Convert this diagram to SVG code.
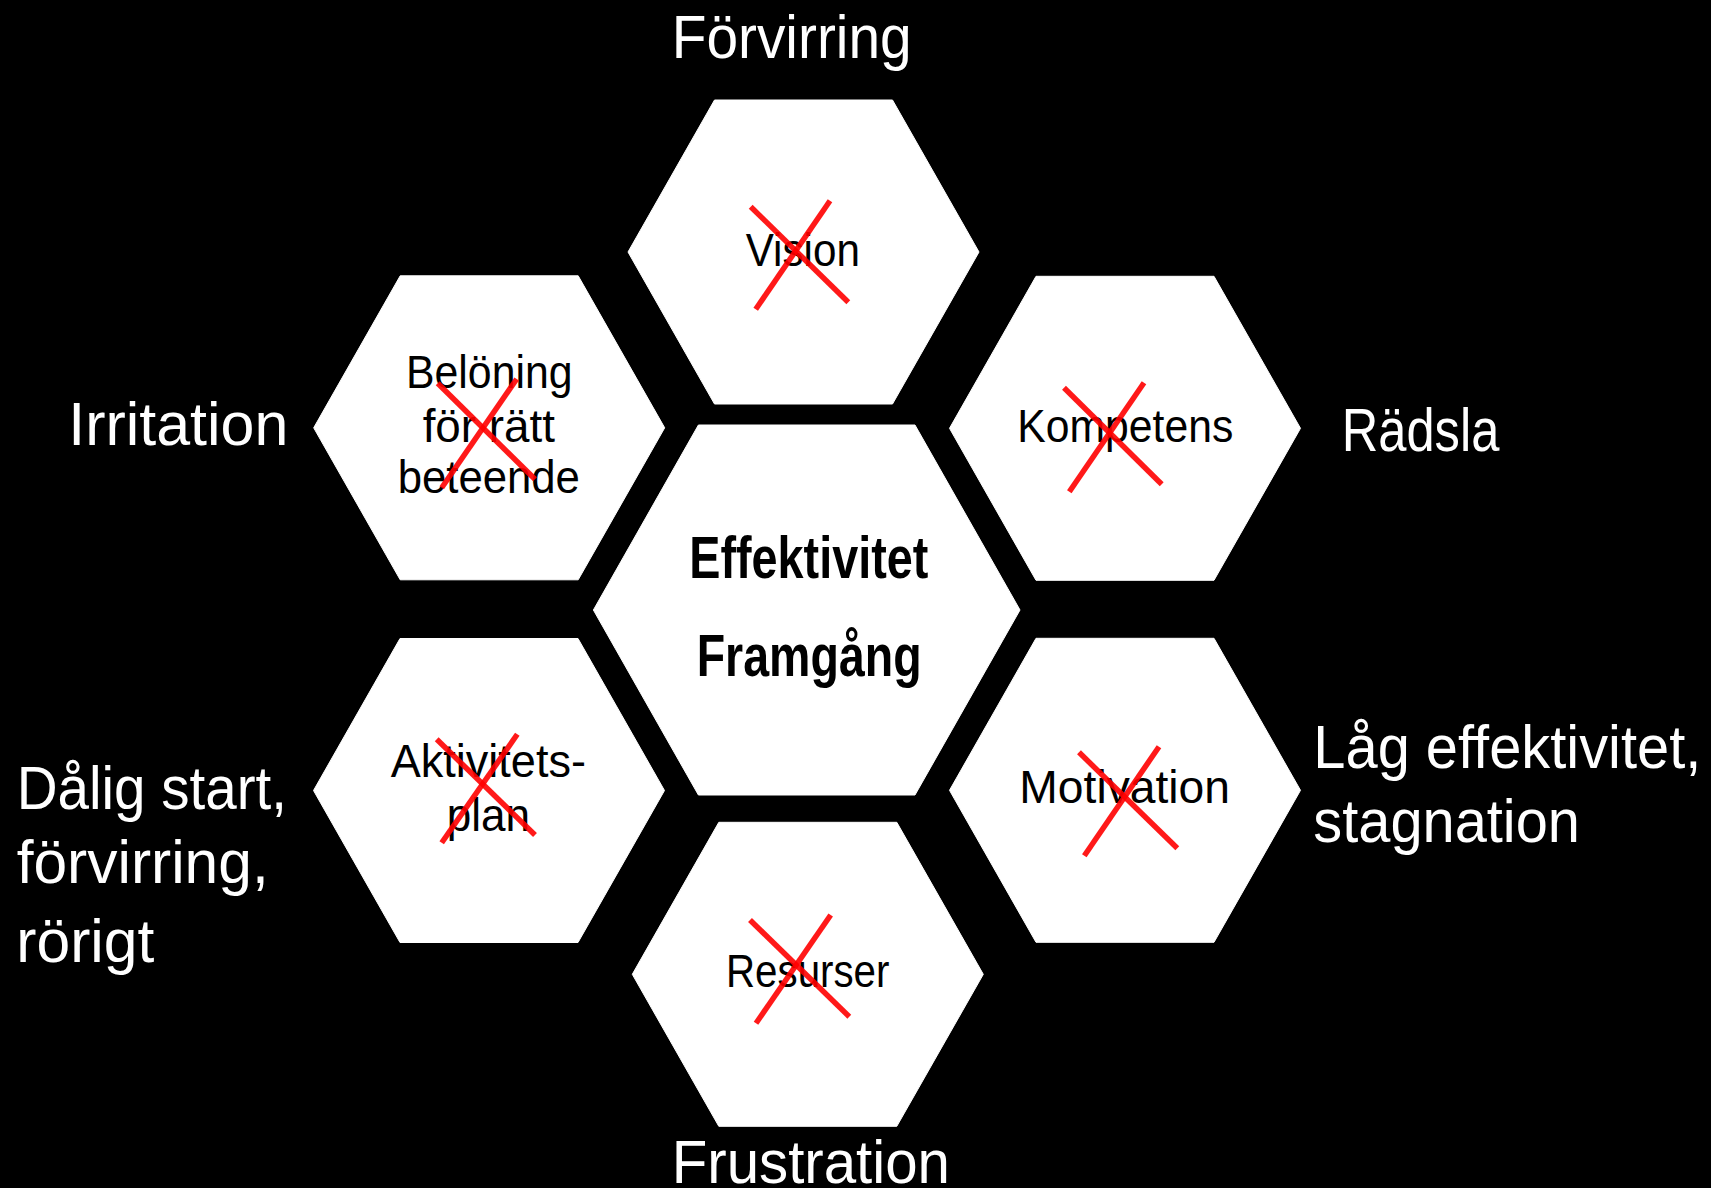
<svg xmlns="http://www.w3.org/2000/svg" xmlns:xlink="http://www.w3.org/1999/xlink" width="1711" height="1188" viewBox="0 0 1711 1188">
<style>
.hex{fill:#ffffff;stroke:#ffffff;stroke-width:1;stroke-linejoin:round}
.nt{font-family:"Liberation Sans",Arial,sans-serif;font-size:46px;fill:#000000;text-anchor:middle}
.ct{font-family:"Liberation Sans",Arial,sans-serif;font-size:60px;font-weight:bold;fill:#000000;text-anchor:middle}
.lb{font-family:"Liberation Sans",Arial,sans-serif;font-size:62px;fill:#ffffff}
.x{stroke:#ff0000;stroke-opacity:0.9;stroke-width:5.5;fill:none}
</style>
<defs>
<polygon id="hexS" points="-175.5,0 -89,-152 89,-152 175.5,0 89,152 -89,152"/>
<polygon id="hexL" points="-213.3,0 -108.3,-185 108.3,-185 213.3,0 108.3,185 -108.3,185"/>
</defs>
<rect x="0" y="0" width="1711" height="1188" fill="#000000"/>

<g id="node-center">
<use xlink:href="#hexL" class="hex" x="806.7" y="610"/>
<text class="ct" x="808.8" y="578.3" textLength="239" lengthAdjust="spacingAndGlyphs">Effektivitet</text>
<text class="ct" x="809.2" y="676" textLength="225" lengthAdjust="spacingAndGlyphs">Framgång</text>
</g>

<g id="node-vision">
<use xlink:href="#hexS" class="hex" x="803.5" y="252"/>
<text class="nt" x="802.8" y="265.7" textLength="114.3" lengthAdjust="spacingAndGlyphs">Vision</text>
<line class="x" x1="750.7" y1="206.7" x2="848.3" y2="302.3"/>
<line class="x" x1="830" y1="200.7" x2="755.7" y2="309.3"/>
</g>

<g id="node-beloning">
<use xlink:href="#hexS" class="hex" x="489.2" y="427.8"/>
<text class="nt" x="489.3" y="388.3" textLength="166.7" lengthAdjust="spacingAndGlyphs">Belöning</text>
<text class="nt" x="488.8" y="441.7" textLength="132.3" lengthAdjust="spacingAndGlyphs">för rätt</text>
<text class="nt" x="488.8" y="492.7" textLength="182.3" lengthAdjust="spacingAndGlyphs">beteende</text>
<line class="x" x1="437.7" y1="383.3" x2="535" y2="479.3"/>
<line class="x" x1="516.7" y1="379" x2="441.7" y2="487.7"/>
</g>

<g id="node-kompetens">
<use xlink:href="#hexS" class="hex" x="1125" y="428.3"/>
<text class="nt" x="1125.3" y="441.7" textLength="216" lengthAdjust="spacingAndGlyphs">Kompetens</text>
<line class="x" x1="1064" y1="387.7" x2="1161.7" y2="484.3"/>
<line class="x" x1="1144" y1="382.7" x2="1069.3" y2="491.7"/>
</g>

<g id="node-aktivitetsplan">
<use xlink:href="#hexS" class="hex" x="489" y="790.5"/>
<text class="nt" x="488.3" y="777.3" textLength="195.3" lengthAdjust="spacingAndGlyphs">Aktivitets-</text>
<text class="nt" x="488.3" y="830.7" textLength="83.3" lengthAdjust="spacingAndGlyphs">plan</text>
<line class="x" x1="436.7" y1="739.3" x2="535" y2="835"/>
<line class="x" x1="517.3" y1="734.3" x2="441.7" y2="842.7"/>
</g>

<g id="node-motivation">
<use xlink:href="#hexS" class="hex" x="1125" y="790.3"/>
<text class="nt" x="1124.7" y="803.3" textLength="210.7" lengthAdjust="spacingAndGlyphs">Motivation</text>
<line class="x" x1="1079" y1="752.3" x2="1177.3" y2="848.3"/>
<line class="x" x1="1159" y1="746.7" x2="1084.3" y2="855.7"/>
</g>

<g id="node-resurser">
<use xlink:href="#hexS" class="hex" x="807.8" y="974.3"/>
<text class="nt" x="807.7" y="987.3" textLength="163.3" lengthAdjust="spacingAndGlyphs">Resurser</text>
<line class="x" x1="750" y1="920" x2="849.3" y2="1016.7"/>
<line class="x" x1="830.7" y1="915" x2="756" y2="1023.3"/>
</g>

<g id="connectors"></g>

<g id="labels">
<text id="label-forvirring" class="lb" x="671.7" y="58.3" textLength="240" lengthAdjust="spacingAndGlyphs">Förvirring</text>
<text id="label-irritation" class="lb" x="68.3" y="445" textLength="220" lengthAdjust="spacingAndGlyphs">Irritation</text>
<text id="label-radsla" class="lb" x="1341.7" y="451" textLength="157.6" lengthAdjust="spacingAndGlyphs">Rädsla</text>
<text id="label-frustration" class="lb" x="671.7" y="1182.7" textLength="278.3" lengthAdjust="spacingAndGlyphs">Frustration</text>
<g id="label-dalig">
<text class="lb" x="16.7" y="809.3" textLength="270.3" lengthAdjust="spacingAndGlyphs">Dålig start,</text>
<text class="lb" x="16.7" y="883.3" textLength="252" lengthAdjust="spacingAndGlyphs">förvirring,</text>
<text class="lb" x="16.3" y="961.7" textLength="138" lengthAdjust="spacingAndGlyphs">rörigt</text>
</g>
<g id="label-lag">
<text class="lb" x="1313.3" y="768.3" textLength="388" lengthAdjust="spacingAndGlyphs">Låg effektivitet,</text>
<text class="lb" x="1313.3" y="841.7" textLength="266.7" lengthAdjust="spacingAndGlyphs">stagnation</text>
</g>
</g>
</svg>
